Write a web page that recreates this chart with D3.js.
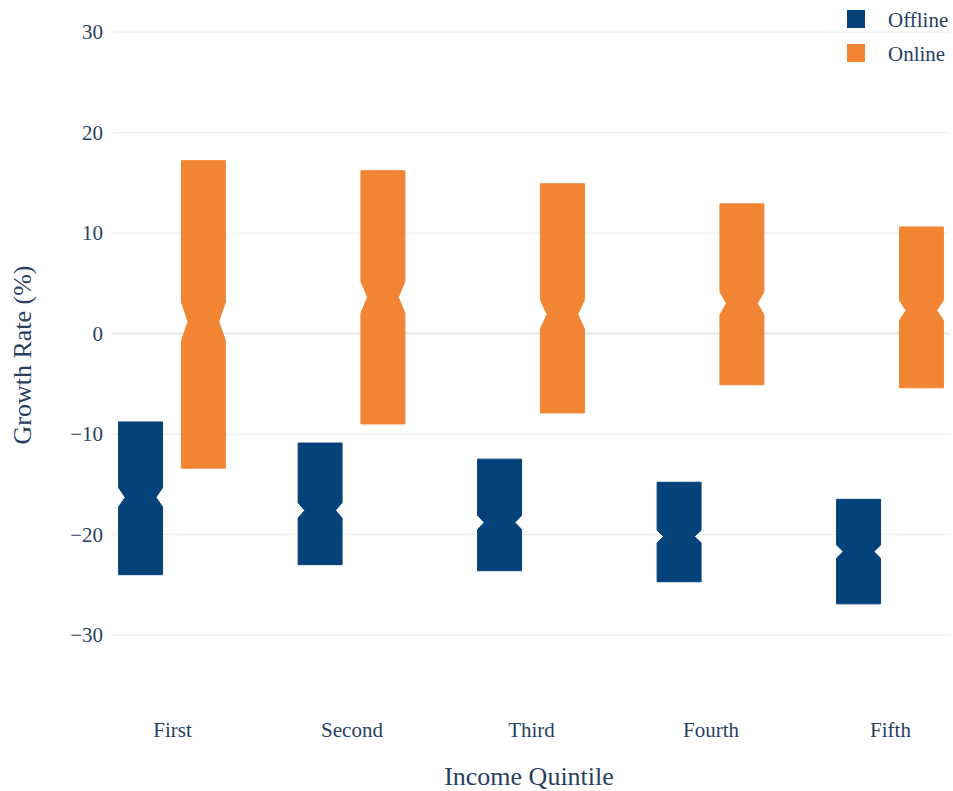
<!DOCTYPE html>
<html>
<head>
<meta charset="utf-8">
<script src="https://cdn.jsdelivr.net/npm/d3@7"></script>
<style>
  html, body { margin: 0; padding: 0; background: #ffffff; }
  svg { display: block; }
  text { font-family: "Liberation Serif", "DejaVu Serif", serif; fill: #2a3f5f; }
</style>
</head>
<body>
<svg id="chart" width="953" height="791"></svg>
<script>
// Income quintiles on the x axis
const quintiles = ["First", "Second", "Third", "Fourth", "Fifth"];
const seriesNames = ["Offline", "Online"];

// Growth rate (%) box statistics per quintile
const offlineQ1     = [-24.0, -23.0, -23.6, -24.7, -26.9];
const offlineMedian = [-16.3, -17.6, -18.8, -20.2, -21.7];
const offlineQ3     = [-8.8, -10.9, -12.5, -14.8, -16.5];

const onlineQ1      = [-13.4, -9.0, -7.9, -5.1, -5.4];
const onlineMedian  = [1.2, 3.6, 1.9, 3.0, 2.3];
const onlineQ3      = [17.2, 16.2, 14.9, 12.9, 10.6];

// Observations behind each box (used for the notch half-height 1.57*IQR/sqrt(n))
const sampleSize = 625;

const yTicks = [-30, -20, -10, 0, 10, 20, 30];
const colors = { Offline: "#05427a", Online: "#f28534" };

const series = [
  { name: "Offline", q1: offlineQ1, med: offlineMedian, q3: offlineQ3 },
  { name: "Online",  q1: onlineQ1,  med: onlineMedian,  q3: onlineQ3 }
];

const svg = d3.select("#chart");
const plot = { left: 112, right: 950, top: 0, bottom: 700 };

const x = d3.scalePoint().domain(quintiles).range([172, 890]);
const step = x.step();
const groupWidth = step * 0.7;
const slot = groupWidth / seriesNames.length;
const boxWidth = slot * 0.7;
const xOffset = d3.scaleBand().domain(seriesNames).range([-groupWidth / 2, groupWidth / 2]);

const y = d3.scaleLinear().domain([-30, 30]).range([635, 32]);

// Horizontal gridlines
svg.append("g")
  .selectAll("line")
  .data(yTicks)
  .join("line")
  .attr("x1", plot.left).attr("x2", plot.right)
  .attr("y1", d => y(d)).attr("y2", d => y(d))
  .attr("stroke", d => d === 0 ? "#e8e8e8" : "#eeeeee")
  .attr("stroke-width", d => d === 0 ? 2 : 1);

// Y axis tick labels
const yAxis = d3.axisLeft(y).tickValues(yTicks).tickSize(0).tickPadding(7)
  .tickFormat(d => d < 0 ? "\u2212" + Math.abs(d) : String(d));
svg.append("g")
  .attr("transform", `translate(${plot.left - 2},0)`)
  .call(yAxis)
  .call(g => g.select(".domain").remove())
  .call(g => g.selectAll("text")
    .style("font-family", '"Liberation Serif", serif')
    .style("font-size", "21px").attr("fill", "#2a3f5f"));

// X axis tick labels
const xAxis = d3.axisBottom(x).tickSize(0).tickPadding(0);
svg.append("g")
  .attr("transform", "translate(0,722)")
  .call(xAxis)
  .call(g => g.select(".domain").remove())
  .call(g => g.selectAll("text")
    .style("font-family", '"Liberation Serif", serif')
    .style("font-size", "21px").attr("fill", "#2a3f5f"));

// Axis titles
svg.append("text")
  .attr("x", 529).attr("y", 785)
  .attr("text-anchor", "middle")
  .style("font-size", "26px")
  .text("Income Quintile");

svg.append("text")
  .attr("transform", "translate(31,355) rotate(-90)")
  .attr("text-anchor", "middle")
  .style("font-size", "26px")
  .text("Growth Rate (%)");

// Notched boxes
const notchWidth = 0.3;
function boxPath(cx, q1, med, q3) {
  const half = boxWidth / 2;
  const notchHalf = 1.57 * (q3 - q1) / Math.sqrt(sampleSize);
  const ln = y(med - notchHalf), un = y(med + notchHalf), m = y(med);
  const x0 = cx - half, x1 = cx + half;
  const m0 = cx - half * (1 - notchWidth), m1 = cx + half * (1 - notchWidth);
  return `M${x0},${ln}V${y(q1)}H${x1}V${ln}L${m1},${m}L${x1},${un}V${y(q3)}H${x0}V${un}L${m0},${m}Z`;
}

const boxes = [];
series.forEach(s => {
  quintiles.forEach((q, i) => {
    boxes.push({ name: s.name, quintile: q, q1: s.q1[i], med: s.med[i], q3: s.q3[i] });
  });
});

svg.append("g")
  .selectAll("path")
  .data(boxes)
  .join("path")
  .attr("d", d => {
    const cx = x(d.quintile) + xOffset(d.name) + xOffset.bandwidth() / 2;
    return boxPath(cx, d.q1, d.med, d.q3);
  })
  .attr("fill", d => colors[d.name])
  .attr("stroke", d => colors[d.name])
  .attr("stroke-width", 1);

// Legend
const legend = svg.append("g").attr("transform", "translate(847,10)");
const item = legend.selectAll("g")
  .data(seriesNames)
  .join("g")
  .attr("transform", (d, i) => `translate(0,${i * 34})`);
item.append("rect")
  .attr("x", 0).attr("y", 0).attr("width", 18).attr("height", 18)
  .attr("fill", d => colors[d]);
item.append("text")
  .attr("x", 41).attr("y", 17)
  .style("font-size", "21px")
  .text(d => d);
</script>
</body>
</html>
